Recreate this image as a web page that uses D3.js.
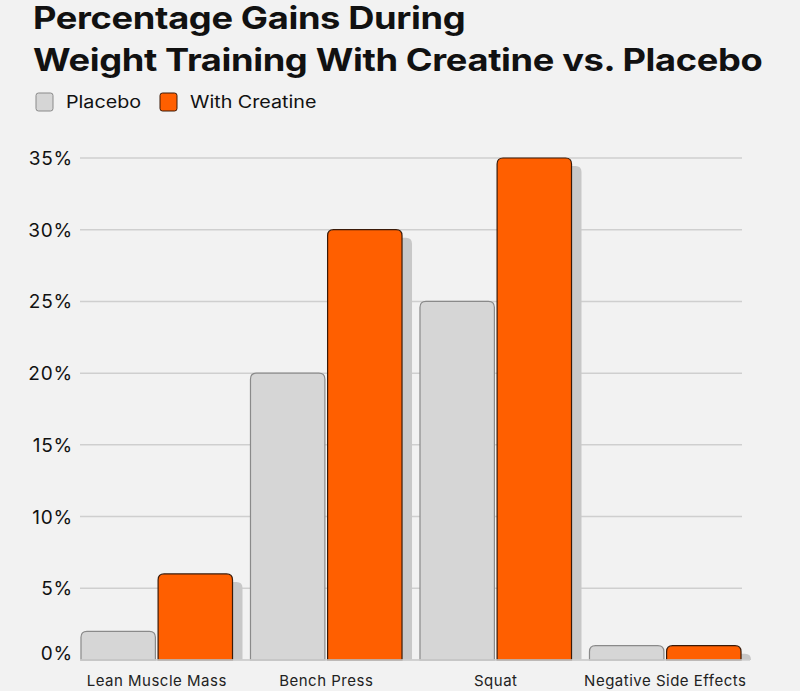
<!DOCTYPE html>
<html><head><meta charset="utf-8">
<script src="https://cdn.jsdelivr.net/npm/d3@7"></script>
<style>
html,body{margin:0;padding:0;background:#f2f2f2;}
svg{display:block;font-family:Inter, "Noto Sans", sans-serif;}
</style></head>
<body>
<svg id="chart" width="800" height="691"></svg>
<script>
const categories = ["Lean Muscle Mass", "Bench Press", "Squat", "Negative Side Effects"];
const seriesNames = ["Placebo", "With Creatine"];
const placebo = [2, 20, 25, 1];
const creatine = [6, 30, 35, 1];
const yTicks = [0, 5, 10, 15, 20, 25, 30, 35];
const titleLines = ["Percentage Gains During", "Weight Training With Creatine vs. Placebo"];

const colors = {"Placebo": "#d6d6d6", "With Creatine": "#ff5f00"};
const strokes = {"Placebo": "#8a8a8a", "With Creatine": "#3a1a08"};

const svg = d3.select("#chart");
svg.append("rect").attr("width", 800).attr("height", 691).attr("fill", "#f2f2f2");

const y = d3.scaleLinear().domain([0, 35]).range([660, 158]);
const x0 = d3.scaleBand().domain(categories).range([72, 750]).paddingInner(0.106).paddingOuter(0.053);
const x1 = d3.scaleBand().domain(seriesNames).range([0, x0.bandwidth()]).paddingInner(0.035);

// title (font widened horizontally to match the reference face)
svg.selectAll("g.title").data(titleLines).join("g")
  .attr("class", "title")
  .attr("transform", (d, i) => `translate(33,${29 + i * 42}) scale(1.17,1)`)
  .append("text")
  .attr("font-size", 31).attr("font-weight", 700).attr("fill", "#111")
  .attr("letter-spacing", -0.3)
  .text(d => d);

// legend
const legendX = [36, 160];
const lg = svg.selectAll("g.leg").data(seriesNames).join("g")
  .attr("class", "leg")
  .attr("transform", (d, i) => `translate(${legendX[i]},93)`);
lg.append("rect").attr("width", 17).attr("height", 18).attr("rx", 2.5)
  .attr("fill", d => colors[d]).attr("stroke", d => strokes[d]).attr("stroke-width", 1);
lg.append("g").attr("transform", "translate(30,15) scale(1.16,1)")
  .append("text").attr("font-size", 17).attr("fill", "#111").text(d => d);

// grid
svg.selectAll("line.grid").data(yTicks).join("line")
  .attr("class", "grid")
  .attr("x1", 80).attr("x2", 742)
  .attr("y1", d => y(d)).attr("y2", d => y(d))
  .attr("stroke", "#cfcfcf").attr("stroke-width", 1.5);

// y labels
svg.selectAll("text.ylab").data(yTicks).join("text")
  .attr("class", "ylab")
  .attr("x", 73).attr("y", d => d === 0 ? y(d) - 0 : y(d) + 7)
  .attr("text-anchor", "end").attr("font-size", 19).attr("fill", "#111")
  .attr("letter-spacing", 0.8)
  .text(d => d + "%");

function topRounded(x, yTop, w, h, r) {
  r = Math.min(r, h, w / 2);
  return `M${x},${yTop + h}V${yTop + r}Q${x},${yTop} ${x + r},${yTop}H${x + w - r}Q${x + w},${yTop} ${x + w},${yTop + r}V${yTop + h}Z`;
}

const rows = categories.map((c, i) => ({cat: c, values: [
  {s: "Placebo", v: placebo[i]}, {s: "With Creatine", v: creatine[i]}
]}));

const groups = svg.selectAll("g.cat").data(rows).join("g")
  .attr("class", "cat")
  .attr("transform", d => `translate(${x0(d.cat)},0)`);

// shadows behind creatine bars
groups.selectAll("path.shadow").data(d => d.values.filter(v => v.s === "With Creatine")).join("path")
  .attr("class", "shadow")
  .attr("d", d => {
    const yt = y(d.v) + 8;
    return topRounded(x1(d.s) + 10, yt, x1.bandwidth(), Math.max(0, y(0) - yt), 6);
  })
  .attr("fill", "#c8c8c8");

groups.selectAll("path.bar").data(d => d.values).join("path")
  .attr("class", "bar")
  .attr("d", d => topRounded(x1(d.s), y(d.v), x1.bandwidth(), y(0) - y(d.v), 6))
  .attr("fill", d => colors[d.s])
  .attr("stroke", d => strokes[d.s]).attr("stroke-width", 1.2);

// baseline
svg.append("line").attr("x1", 80).attr("x2", 750).attr("y1", y(0)).attr("y2", y(0))
  .attr("stroke", "#cfcfcf").attr("stroke-width", 1.5);

// category labels
svg.selectAll("text.xlab").data(categories).join("text")
  .attr("class", "xlab")
  .attr("x", d => x0(d) + x0.bandwidth() / 2).attr("y", 686)
  .attr("text-anchor", "middle").attr("font-size", 15).attr("fill", "#222")
  .attr("letter-spacing", 0.5)
  .text(d => d);
</script>
</body></html>
